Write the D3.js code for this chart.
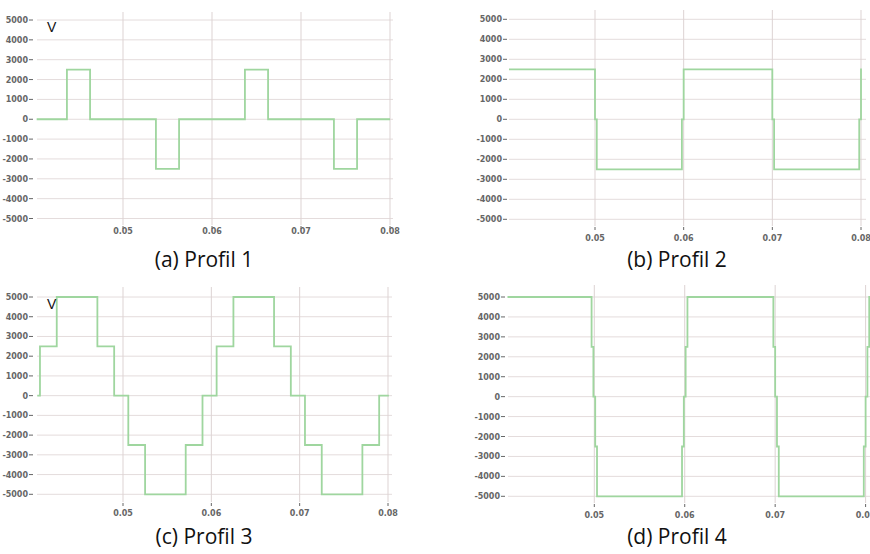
<!DOCTYPE html>
<html lang="en">
<head>
    <meta charset="UTF-8">
    <title>Profils de tension</title>
    <script src="https://d3js.org/d3.v7.min.js"></script>
    <style>
        body { margin: 0; background: #fff; }
        .tick-label { font-family: "DejaVu Sans", sans-serif; font-size: 8px; font-weight: bold; fill: #666; }
        .caption { font-family: "Open Sans", sans-serif; font-size: 21px; fill: #111; }
        .unit { font-family: "Liberation Sans", sans-serif; font-size: 14px; fill: #111; }
    </style>
</head>
<body>
    <script>
        var w = 870;
        var h = 554;

        // tick values
        var yTicks = [5000, 4000, 3000, 2000, 1000, 0, -1000, -2000, -3000, -4000, -5000];
        var xTicks = [0.05, 0.06, 0.07, 0.08];

        // Profil 1 : pulses (step after)
        var p1Times  = [0.0403, 0.0437, 0.0463, 0.0537, 0.0563, 0.0637, 0.0663, 0.0737, 0.0763, 0.0800];
        var p1Values = [0, 2500, 0, -2500, 0, 2500, 0, -2500, 0, 0];

        // Profil 2 : square wave +/-2500
        var p2Times  = [0.0403, 0.0500, 0.0502, 0.0598, 0.0600, 0.0700, 0.0702, 0.0798, 0.0800, 0.0801];
        var p2Values = [2500, 0, -2500, 0, 2500, 0, -2500, 0, 2500, 2500];

        // Profil 3 : staircase
        var p3Times  = [0.0403, 0.0406, 0.0425, 0.0471, 0.0490, 0.0506, 0.0525, 0.0571, 0.0590,
                        0.0606, 0.0625, 0.0671, 0.0690, 0.0706, 0.0725, 0.0771, 0.0790, 0.0801];
        var p3Values = [0, 2500, 5000, 2500, 0, -2500, -5000, -2500, 0,
                        2500, 5000, 2500, 0, -2500, -5000, -2500, 0, 0];

        // Profil 4 : square wave +/-5000 with short steps
        var p4Times  = [0.0404, 0.0497, 0.0499, 0.0501, 0.0503, 0.0597, 0.0599, 0.0601, 0.0603,
                        0.0698, 0.0700, 0.0702, 0.0704, 0.0798, 0.0800, 0.0802, 0.0804, 0.0806];
        var p4Values = [5000, 2500, 0, -2500, -5000, -2500, 0, 2500, 5000,
                        2500, 0, -2500, -5000, -2500, 0, 2500, 5000, 5000];

        var captions = ["(a) Profil 1", "(b) Profil 2", "(c) Profil 3", "(d) Profil 4"];

        var panels = [
            { times: p1Times, values: p1Values, caption: captions[0], unit: true,
              x05: 123, x08: 390, yTop: 20, yBot: 218.5, gl: 37, gr: 393, gt: 12, gb: 225,
              yLab: 28, xLab: 234, capX: 204, capY: 267 },
            { times: p2Times, values: p2Values, caption: captions[1], unit: false,
              x05: 595, x08: 861, yTop: 19.3, yBot: 219.3, gl: 509, gr: 866, gt: 10, gb: 226,
              yLab: 502, xLab: 241, capX: 677, capY: 267 },
            { times: p3Times, values: p3Values, caption: captions[2], unit: true,
              x05: 123, x08: 388, yTop: 297, yBot: 494.3, gl: 37, gr: 392, gt: 287, gb: 502,
              yLab: 28, xLab: 516, capX: 204, capY: 544 },
            { times: p4Times, values: p4Values, caption: captions[3], unit: false,
              x05: 594.3, x08: 865.6, yTop: 297, yBot: 496.3, gl: 508, gr: 870, gt: 285, gb: 503,
              yLab: 500, xLab: 518, capX: 677, capY: 544 }
        ];

        var svg = d3.select("body")
            .append("svg")
            .attr("width", w)
            .attr("height", h);

        panels.forEach(function(p) {
            var xScale = d3.scaleLinear()
                .domain([0.05, 0.08])
                .range([p.x05, p.x08]);

            var yScale = d3.scaleLinear()
                .domain([5000, -5000])
                .range([p.yTop, p.yBot]);

            var g = svg.append("g");

            // horizontal grid
            g.selectAll(".hgrid")
                .data(yTicks)
                .enter()
                .append("line")
                .attr("x1", p.gl)
                .attr("x2", p.gr)
                .attr("y1", function(d) { return yScale(d); })
                .attr("y2", function(d) { return yScale(d); })
                .attr("stroke", "#e4dcdc")
                .attr("stroke-width", 1);

            // vertical grid
            g.selectAll(".vgrid")
                .data(xTicks)
                .enter()
                .append("line")
                .attr("x1", function(d) { return xScale(d); })
                .attr("x2", function(d) { return xScale(d); })
                .attr("y1", p.gt)
                .attr("y2", p.gb)
                .attr("stroke", "#ddd3d3")
                .attr("stroke-width", 1);

            // y ticks + labels
            g.selectAll(".ytick")
                .data(yTicks)
                .enter()
                .append("line")
                .attr("x1", p.yLab + 1)
                .attr("x2", p.yLab + 5)
                .attr("y1", function(d) { return yScale(d); })
                .attr("y2", function(d) { return yScale(d); })
                .attr("stroke", "#666")
                .attr("stroke-width", 1);

            g.selectAll(".ylabel")
                .data(yTicks)
                .enter()
                .append("text")
                .attr("class", "tick-label")
                .attr("x", p.yLab)
                .attr("y", function(d) { return yScale(d) + 3; })
                .attr("text-anchor", "end")
                .text(function(d) { return d; });

            // x ticks + labels
            g.selectAll(".xtick")
                .data(xTicks)
                .enter()
                .append("line")
                .attr("x1", function(d) { return xScale(d); })
                .attr("x2", function(d) { return xScale(d); })
                .attr("y1", p.gb + 1)
                .attr("y2", p.gb + 4)
                .attr("stroke", "#666")
                .attr("stroke-width", 1);

            g.selectAll(".xlabel")
                .data(xTicks)
                .enter()
                .append("text")
                .attr("class", "tick-label")
                .attr("x", function(d) { return xScale(d); })
                .attr("y", p.xLab)
                .attr("text-anchor", "middle")
                .text(function(d) { return d.toFixed(2); });

            // signal
            var pts = p.times.map(function(t, i) { return [t, p.values[i]]; });
            var line = d3.line()
                .x(function(d) { return xScale(d[0]); })
                .y(function(d) { return yScale(d[1]); })
                .curve(d3.curveStepAfter);

            g.append("path")
                .datum(pts)
                .attr("d", line)
                .attr("fill", "none")
                .attr("stroke", "#9fd69f")
                .attr("stroke-width", 1.8);

            if (p.unit) {
                g.append("text")
                    .attr("class", "unit")
                    .attr("x", p.gl + 10)
                    .attr("y", p.yTop + 12)
                    .text("V");
            }

            g.append("text")
                .attr("class", "caption")
                .attr("x", p.capX)
                .attr("y", p.capY)
                .attr("text-anchor", "middle")
                .text(p.caption);
        });
    </script>
</body>
</html>
